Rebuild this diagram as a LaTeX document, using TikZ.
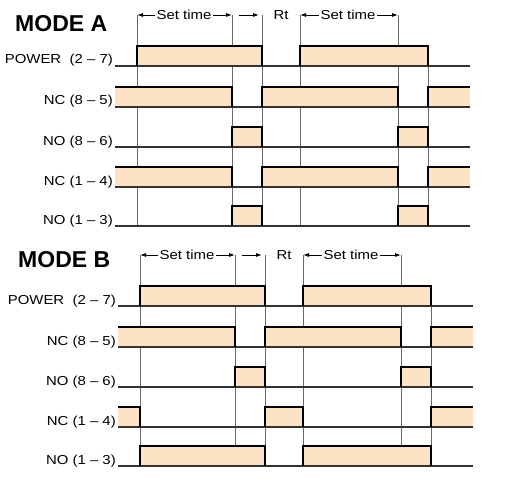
\documentclass[tikz,border=0pt]{standalone}
\usepackage{fontspec}
\setmainfont{Liberation Sans}
\newfontfamily\widefont[FakeStretch=1.15]{Liberation Sans}
\usetikzlibrary{calc,positioning,arrows.meta}
\definecolor{peach}{RGB}{252,227,198}
\definecolor{guidegray}{RGB}{105,105,105}

\begin{document}
\begin{tikzpicture}[x=1pt, y=-1pt,
	mode/.style = {anchor=west, inner sep=0pt, font=\fontsize{23}{25}\selectfont\bfseries},
	sig/.style = {anchor=base east, inner sep=0pt, font=\widefont\fontsize{13}{15}\selectfont},
	hdr/.style = {inner sep=1.5pt, font=\widefont\fontsize{13}{15}\selectfont},
	guide/.style = {draw=guidegray, line width=0.9pt},
	base/.style = {draw=black!80, line width=1.1pt},
	trace/.style = {draw=black, line width=1.8pt},
	span/.style = {-{Latex[length=6pt,width=4pt]}, line width=0.9pt}]
	\useasboundingbox (0,0) rectangle (510,481);
	\foreach \m/\dx/\dy/\ty/\lo/\cl in {%
		A/0/0/24/{107/232,187/232}/{66/137/262,66/300/428,107/262/398,147/232/262,147/398/428,187/262/398,226/232/262,226/398/428},
		B/3/240/20/{107/232,187/137}/{66/137/262,66/300/428,107/262/398,147/232/262,147/398/428,187/262/300,226/137/262,226/300/428}} {
	\begin{scope}[shift={(\dx,\dy)}]
		\node[mode] (mode\m) at (15,\ty) {MODE \m};
		% guide lines
		\foreach \t in {137,232,262,300,398}
			\draw[guide] (\t,15) -- (\t,226);
		\draw[guide] (428,46) -- (428,226);
		% timing header
		\coordinate (k1\m) at (137,15);
		\coordinate (k2\m) at (232,15);
		\coordinate (k3\m) at (259,15);
		\coordinate (k4\m) at (300,15);
		\coordinate (k5\m) at (398,15);
		\coordinate (r\m) at (239,15);
		\node[hdr] (set1\m) at (184,15) {Set time};
		\node[hdr] (rt\m) at (281,15) {Rt};
		\node[hdr] (set2\m) at (348,15) {Set time};
		\draw[span] (set1\m.west) -- (k1\m);
		\draw[span] (set1\m.east) -- (k2\m);
		\draw[span] (r\m) -- (k3\m);
		\draw[span] (set2\m.west) -- (k4\m);
		\draw[span] (set2\m.east) -- (k5\m);
		% high levels
		\foreach \y/\a/\b in \cl
			\fill[peach] (\a,\y-20) rectangle (\b,\y);
		\foreach \y/\b in \lo
			\fill[peach] (115,\y-20) rectangle (\b,\y);
		\foreach \y in {107,187}
			\fill[peach] (428,\y-20) rectangle (470,\y);
		% signal names and base lines
		\foreach \y/\txt [count=\i] in {66/POWER~~(2 – 7), 107/NC (8 – 5), 147/NO (8 – 6), 187/NC (1 – 4), 226/NO (1 – 3)} {
			\node[sig] (lab\i\m) at (113,\y-2) {\txt};
			\draw[base] (115,\y) -- (470,\y);
		}
		% edges
		\foreach \y/\a/\b in \cl
			\draw[trace] (\a,\y) -- (\a,\y-20) -- (\b,\y-20) -- (\b,\y);
		\foreach \y/\b in \lo
			\draw[trace] (115,\y-20) -- (\b,\y-20) -- (\b,\y);
		\foreach \y in {107,187}
			\draw[trace] (428,\y) -- (428,\y-20) -- (470,\y-20);
	\end{scope}
	}
\end{tikzpicture}
\end{document}
